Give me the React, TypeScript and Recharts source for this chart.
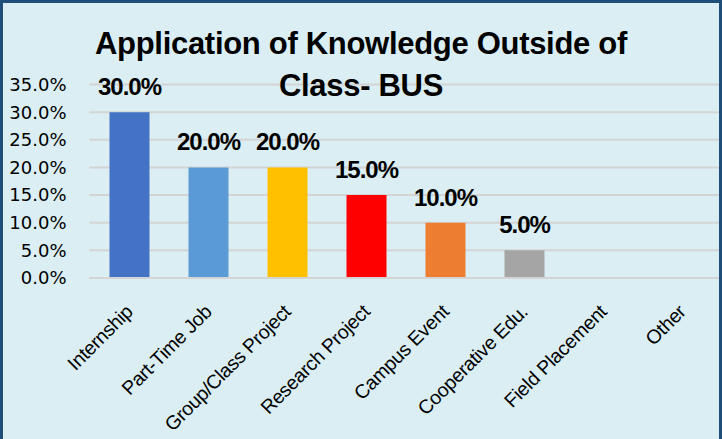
import { Bar, BarChart, CartesianGrid, Cell, LabelList, XAxis, YAxis } from "recharts";

const categories = [
  "Internship",
  "Part-Time Job",
  "Group/Class Project",
  "Research Project",
  "Campus Event",
  "Cooperative Edu.",
  "Field Placement",
  "Other",
];
const shares = [0.3, 0.2, 0.2, 0.15, 0.1, 0.05, 0, 0];
const barColors = ["#4472C4", "#5B9BD5", "#FFC000", "#FF0000", "#ED7D31", "#A5A5A5", "#70AD47", "#264478"];
const yTicks = [0, 0.05, 0.1, 0.15, 0.2, 0.25, 0.3, 0.35];

const data = categories.map((name, i) => ({ name, value: shares[i] }));

const pct = (v: number) => (v * 100).toFixed(1) + "%";

const AngledTick = ({ x, y, payload }: any) => (
  <text
    x={x + 5}
    y={y + 27}
    transform={`rotate(-45, ${x + 5}, ${y + 27})`}
    textAnchor="end"
    fontFamily="'Liberation Sans', Arial, sans-serif"
    fontSize={19.5}
    letterSpacing={-0.3}
    fill="#000"
  >
    {payload.value}
  </text>
);

const App = () => {
  return (
    <div
      style={{
        position: "absolute",
        left: 0,
        top: 0,
        width: 722,
        height: 439,
        background: "#DAEEF3",
        overflow: "hidden",
      }}
    >
      <BarChart
        width={722}
        height={439}
        data={data}
        margin={{ top: 84.5, right: 0.5, left: 9.5, bottom: 31 }}
        barCategoryGap="25%"
      >
        <CartesianGrid vertical={false} stroke="#D4D4D4" strokeWidth={2} />
        <XAxis
          dataKey="name"
          interval={0}
          height={130}
          axisLine={{ stroke: "#D4D4D4", strokeWidth: 2 }}
          tickLine={false}
          tick={<AngledTick />}
        />
        <YAxis
          width={80}
          domain={[0, 0.35]}
          ticks={yTicks}
          tickFormatter={pct}
          axisLine={false}
          tickLine={false}
          tickSize={0}
          tickMargin={23}
          tick={{ fill: "#000", fontSize: 18, fontFamily: "'DejaVu Sans', sans-serif" }}
        />
        <Bar dataKey="value" barSize={40} isAnimationActive={false}>
          {data.map((d, i) => (
            <Cell key={d.name} fill={barColors[i]} />
          ))}
          <LabelList
            dataKey="value"
            position="top"
            offset={17}
            formatter={(v: any) => (v > 0 ? pct(v) : "")}
            style={{
              fill: "#000",
              fontSize: 24,
              fontWeight: "bold",
              letterSpacing: -1,
              fontFamily: "'Liberation Sans', Arial, sans-serif",
            }}
          />
        </Bar>
      </BarChart>
      <div
        style={{
          position: "absolute",
          left: 0,
          top: 23,
          width: 722,
          textAlign: "center",
          fontFamily: "'Liberation Sans', Arial, sans-serif",
          fontWeight: "bold",
          fontSize: 31,
          lineHeight: "42px",
          letterSpacing: -0.3,
          color: "#000",
          pointerEvents: "none",
        }}
      >
        Application of Knowledge Outside of
        <br />
        Class- BUS
      </div>
      <div
        style={{
          position: "absolute",
          left: 0,
          top: 0,
          width: 722,
          height: 439,
          boxSizing: "border-box",
          borderTop: "3px solid #1F4E79",
          borderLeft: "3px solid #1F4E79",
          borderRight: "3px solid #1F4E79",
          pointerEvents: "none",
        }}
      />
    </div>
  );
};

export default App;
